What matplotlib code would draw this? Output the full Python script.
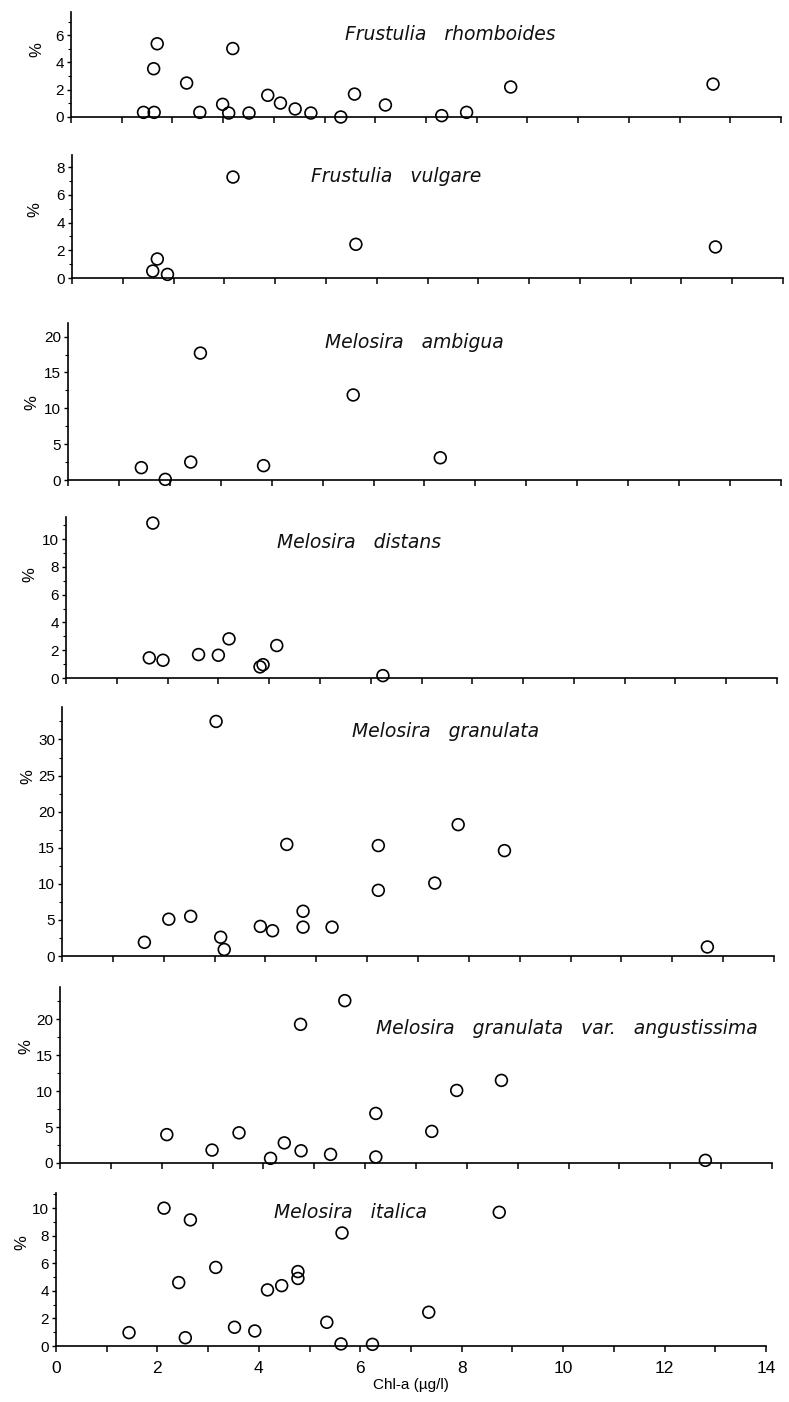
import matplotlib
matplotlib.use("Agg")
import matplotlib.pyplot as plt
from matplotlib.ticker import MultipleLocator
import numpy as np

plt.rcParams['font.family'] = ['Liberation Sans', 'DejaVu Sans']

# ---- data (Chl-a in ug/l, percentage) ----
titles = ["Frustulia   rhomboides", "Frustulia   vulgare", "Melosira   ambigua",
          "Melosira   distans", "Melosira   granulata",
          "Melosira   granulata   var.   angustissima", "Melosira   italica"]

fr_rhomb_x = [1.43, 1.64, 1.63, 1.70, 2.28, 2.54, 2.99, 3.11, 3.19, 3.51, 3.88, 4.13,
              4.42, 4.73, 5.32, 5.59, 6.20, 7.31, 7.80, 8.67, 12.66]
fr_rhomb_y = [0.34, 0.34, 3.54, 5.37, 2.49, 0.34, 0.93, 0.29, 5.02, 0.29, 1.59, 1.02,
              0.59, 0.29, 0.0, 1.68, 0.88, 0.10, 0.34, 2.20, 2.41]

fr_vulg_x = [3.17, 5.59, 12.67, 1.68, 1.59, 1.88]
fr_vulg_y = [7.28, 2.43, 2.24, 1.37, 0.50, 0.26]

me_amb_x = [1.44, 1.91, 2.41, 2.60, 3.84, 5.60, 7.31]
me_amb_y = [1.72, 0.09, 2.50, 17.7, 2.00, 11.86, 3.10]

me_dist_x = [1.71, 1.64, 1.91, 2.61, 3.00, 3.21, 4.15, 3.82, 3.88, 6.24]
me_dist_y = [11.16, 1.45, 1.28, 1.69, 1.64, 2.82, 2.34, 0.80, 0.96, 0.17]

me_gran_x = [3.03, 4.42, 6.22, 7.79, 8.70, 7.33, 6.22, 4.74, 2.10, 2.53, 1.62, 3.12,
             3.19, 3.90, 4.14, 4.74, 5.31, 12.69]
me_gran_y = [32.5, 15.46, 15.3, 18.2, 14.6, 10.1, 9.1, 6.2, 5.1, 5.5, 1.9, 2.6,
             0.9, 4.1, 3.5, 4.0, 4.0, 1.25]

me_ang_x = [5.60, 4.73, 8.68, 7.80, 6.21, 7.31, 2.10, 3.52, 2.99, 4.41, 4.74, 5.32,
            4.14, 6.21, 12.69]
me_ang_y = [22.6, 19.3, 11.5, 10.1, 6.9, 4.4, 3.95, 4.2, 1.8, 2.8, 1.7, 1.2,
            0.65, 0.84, 0.37]

me_ital_x = [1.44, 2.13, 2.65, 2.42, 2.55, 3.15, 3.52, 3.92, 4.17, 4.45, 4.77, 4.77,
             5.34, 5.64, 5.62, 6.24, 7.35, 8.74]
me_ital_y = [0.97, 10.0, 9.15, 4.6, 0.6, 5.7, 1.36, 1.09, 4.07, 4.38, 5.4, 4.9,
             1.72, 8.2, 0.15, 0.12, 2.45, 9.7]

series_x = [fr_rhomb_x, fr_vulg_x, me_amb_x, me_dist_x, me_gran_x, me_ang_x, me_ital_x]
series_y = [fr_rhomb_y, fr_vulg_y, me_amb_y, me_dist_y, me_gran_y, me_ang_y, me_ital_y]

x_ticks = list(range(0, 15, 2))
x_label = "Chl-a (\u00b5g/l)"
y_label = "%"

# ---- layout (pixels of a 789 x 1402 figure) ----
W, H = 789, 1402
lefts  = [71, 72, 68, 66, 62, 60, 56]
rights = [781, 783, 781, 777, 774, 772, 766]
zeros  = [117, 278, 480, 678, 956, 1163, 1346]
tops   = [12, 155, 323, 517, 707, 987, 1193]
ymaxs  = [7.7, 8.87, 21.9, 11.6, 34.5, 24.5, 11.1]
ysteps = [2, 2, 5, 2, 5, 5, 2]
ytopticks = [6, 8, 20, 10, 30, 20, 10]
title_pos = [(450, 35), (396, 177), (414, 343), (359, 542), (446, 732), (567, 1028), (351, 1213)]
ylab_pos = [(37, 50), (35, 210), (32, 403), (30, 575), (28, 777), (26, 1047), (22, 1243)]

fig = plt.figure(figsize=(W / 100, H / 100), dpi=100)

for i in range(7):
    l, r, z, t = lefts[i], rights[i], zeros[i], tops[i]
    ax = fig.add_axes([l / W, 1 - z / H, (r - l) / W, (z - t) / H])
    ax.scatter(series_x[i], series_y[i], s=72, facecolors='none', edgecolors='black',
               linewidths=1.2, clip_on=False, zorder=3)
    ax.set_xlim(0, 14)
    ax.set_ylim(0, ymaxs[i])
    for s in ['top', 'right']:
        ax.spines[s].set_visible(False)
    for s in ['left', 'bottom']:
        ax.spines[s].set_linewidth(1.2)
    ax.xaxis.set_major_locator(MultipleLocator(1))
    ax.set_yticks(np.arange(0, ytopticks[i] + 0.1, ysteps[i]))
    ax.yaxis.set_minor_locator(MultipleLocator(ysteps[i] / 2))
    ax.tick_params(axis='x', which='major', direction='out', length=4, width=1.1)
    ax.tick_params(axis='y', which='major', direction='out', length=3, width=1.0,
                   labelsize=11, pad=2)
    ax.tick_params(axis='y', which='minor', direction='out', length=2, width=0.8)
    if i < 6:
        ax.tick_params(axis='x', labelbottom=False)
    else:
        ax.set_xticks(np.arange(0, 14.5, 1))
        ax.set_xticklabels([str(v) if v % 2 == 0 else "" for v in range(15)], fontsize=12.5)
        ax.tick_params(axis='x', pad=7)
        ax.set_xlabel(x_label, fontsize=11, labelpad=1)
    tx, ty = title_pos[i]
    fig.text(tx / W, 1 - ty / H, titles[i], ha='center', va='center', fontsize=13.5,
             style='italic', family=['DejaVu Sans'], color='#111111')
    lx, ly = ylab_pos[i]
    fig.text(lx / W, 1 - ly / H, y_label, rotation=90, ha='center', va='center', fontsize=12)

fig.savefig("out.png", dpi=100)
